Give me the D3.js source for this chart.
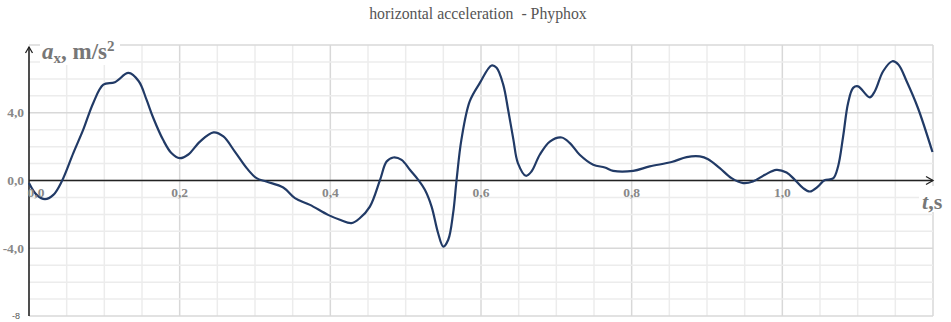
<!DOCTYPE html>
<html><head><meta charset="utf-8">
<script src="https://cdn.jsdelivr.net/npm/d3@7"></script>
<style>body{margin:0;background:#fff}svg{display:block}</style>
</head><body><svg id="c" width="951" height="322"></svg>
<script>
const title = "horizontal acceleration  - Phyphox";
const xTicks = [0, 0.2, 0.4, 0.6, 0.8, 1.0];
const xTickLabels = ["0,0", "0,2", "0,4", "0,6", "0,8", "1,0"];
const yTicks = [4, 0, -4];
const yTickLabels = ["4,0", "0,0", "-4,0"];
const yBottomLabel = "-8";
const time = [0, 0.0102, 0.0212, 0.0323, 0.0434, 0.0588, 0.072, 0.0853, 0.0987, 0.114, 0.132, 0.1457, 0.156, 0.165, 0.178, 0.189, 0.2, 0.211, 0.227, 0.245, 0.258, 0.273, 0.289, 0.302, 0.315, 0.3375, 0.353, 0.373, 0.397, 0.4127, 0.428, 0.439, 0.4525, 0.466, 0.4747, 0.4835, 0.4946, 0.5056, 0.5167, 0.5255, 0.5344, 0.543, 0.55, 0.5565, 0.563, 0.5676, 0.574, 0.585, 0.5985, 0.614, 0.6207, 0.6295, 0.636, 0.643, 0.649, 0.6596, 0.667, 0.678, 0.6914, 0.707, 0.718, 0.731, 0.749, 0.7644, 0.7755, 0.802, 0.824, 0.853, 0.873, 0.8905, 0.9015, 0.917, 0.9326, 0.948, 0.961, 0.977, 0.992, 1.0056, 1.0166, 1.0276, 1.0365, 1.0475, 1.056, 1.0674, 1.074, 1.0807, 1.0873, 1.094, 1.1006, 1.116, 1.1228, 1.1338, 1.146, 1.154, 1.165, 1.18, 1.1993];
const ax = [-0.15, -0.85, -1.1, -0.85, -0.06, 1.62, 3.0, 4.58, 5.66, 5.8, 6.35, 5.86, 4.77, 3.69, 2.4, 1.62, 1.32, 1.52, 2.3, 2.84, 2.6, 1.72, 0.73, 0.14, -0.06, -0.41, -1.04, -1.44, -2.03, -2.32, -2.52, -2.23, -1.54, 0.04, 1.12, 1.36, 1.22, 0.63, 0.04, -0.55, -1.54, -3.1, -3.9, -3.5, -1.93, 0.04, 2.41, 4.67, 5.76, 6.79, 6.65, 5.66, 4.18, 2.41, 1.03, 0.28, 0.53, 1.52, 2.3, 2.54, 2.21, 1.52, 0.93, 0.77, 0.57, 0.57, 0.83, 1.09, 1.38, 1.42, 1.26, 0.73, 0.14, -0.15, -0.06, 0.34, 0.63, 0.47, 0.04, -0.45, -0.65, -0.35, 0.02, 0.12, 0.83, 2.6, 4.58, 5.47, 5.56, 4.91, 5.27, 6.45, 7.04, 6.85, 5.86, 4.28, 1.68];

const svg = d3.select("#c");
const x = d3.scaleLinear().domain([0, 1.2]).range([29, 933]);
const y = d3.scaleLinear().domain([-8, 8]).range([316, 45]);

// grid
const g = svg.append("g");
const vMinor = d3.range(1, 25).map(i => i * 0.05);
g.selectAll(".vg").data(vMinor).join("line")
  .attr("x1", d => x(d)).attr("x2", d => x(d)).attr("y1", y(8)).attr("y2", y(-8))
  .attr("stroke", (d, i) => ((i + 1) % 4 === 0) ? "#d8d8d8" : "#ececec").attr("stroke-width", 1.5);
const hLines = d3.range(-8, 9, 1);
g.selectAll(".hg").data(hLines).join("line")
  .attr("x1", x(0)).attr("x2", x(1.2)).attr("y1", d => y(d)).attr("y2", d => y(d))
  .attr("stroke", d => (d % 4 === 0) ? "#d8d8d8" : "#ececec").attr("stroke-width", 1.5);

// white label backgrounds
svg.append("rect").attr("x", 40).attr("y", 36).attr("width", 80).attr("height", 29).attr("fill", "#fff");
svg.append("rect").attr("x", 919).attr("y", 186).attr("width", 32).attr("height", 26).attr("fill", "#fff");

// axes
svg.append("line").attr("x1", x(0)).attr("x2", x(0)).attr("y1", 47).attr("y2", y(-8))
  .attr("stroke", "#222").attr("stroke-width", 1.6);
svg.append("path").attr("d", `M${x(0)-3.5},${53} L${x(0)},${47} L${x(0)+3.5},${53}`)
  .attr("fill", "none").attr("stroke", "#222").attr("stroke-width", 1.3);
svg.append("line").attr("x1", x(0)).attr("x2", x(1.2)).attr("y1", y(0)).attr("y2", y(0))
  .attr("stroke", "#222").attr("stroke-width", 1.6);
svg.append("path").attr("d", `M${x(1.2)-7},${y(0)-4} L${x(1.2)},${y(0)} L${x(1.2)-7},${y(0)+4}`)
  .attr("fill", "none").attr("stroke", "#222").attr("stroke-width", 1.3);

// line
const line = d3.line().x((d, i) => x(time[i])).y(d => y(d)).curve(d3.curveCatmullRom.alpha(0.5));
svg.append("path").datum(ax).attr("d", line).attr("fill", "none")
  .attr("stroke", "#213a66").attr("stroke-width", 2.2);

// tick labels
const font = "'Liberation Serif', 'Times New Roman', serif";
svg.selectAll(".xt").data(xTicks).join("text")
  .attr("x", (d, i) => i === 0 ? x(d) + 7 : x(d)).attr("y", 197)
  .attr("text-anchor", "middle").attr("font-family", font).attr("font-weight", "bold")
  .attr("font-size", 13.5).attr("fill", "#888").text((d, i) => xTickLabels[i]);
svg.selectAll(".yt").data(yTicks).join("text")
  .attr("x", 24).attr("y", d => y(d) + 4.5)
  .attr("text-anchor", "end").attr("font-family", font).attr("font-weight", "bold")
  .attr("font-size", 13.5).attr("fill", "#888").text((d, i) => yTickLabels[i]);
svg.append("text").attr("x", 20).attr("y", y(-8) + 3).attr("text-anchor", "end")
  .attr("font-family", "'Liberation Sans', Arial, sans-serif").attr("font-size", 9).attr("fill", "#555").text(yBottomLabel);

// axis titles
const yt = svg.append("text").attr("x", 42).attr("y", 59).attr("font-family", font)
  .attr("font-weight", "bold").attr("font-size", 23).attr("fill", "#777");
yt.append("tspan").attr("font-style", "italic").text("a");
yt.append("tspan").attr("font-size", 15).attr("dy", 4).text("x");
yt.append("tspan").attr("dy", -4).text(", m/s");
yt.append("tspan").attr("font-size", 15).attr("dy", -8).text("2");
const xtl = svg.append("text").attr("x", 922).attr("y", 209).attr("font-family", font)
  .attr("font-weight", "bold").attr("font-size", 22).attr("fill", "#777");
xtl.append("tspan").attr("font-style", "italic").text("t");
xtl.append("tspan").text(",s");

svg.append("text").attr("x", 478).attr("y", 19).attr("text-anchor", "middle")
  .attr("xml:space", "preserve").style("white-space", "pre")
  .attr("font-family", font).attr("font-size", 15.8).attr("fill", "#555").text(title);
</script></body></html>
